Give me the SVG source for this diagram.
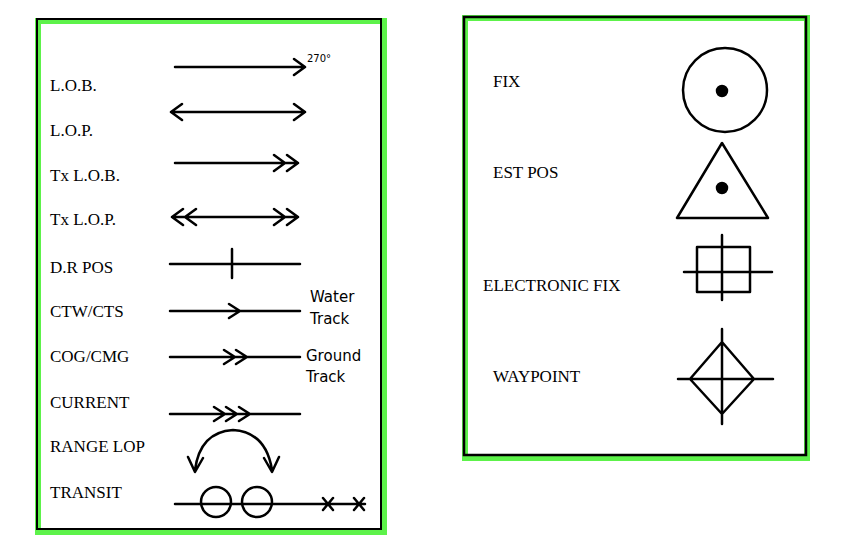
<svg xmlns="http://www.w3.org/2000/svg" width="859" height="545" viewBox="0 0 859 545">
<style>
.t{font-family:"Liberation Serif",serif;font-size:17px;fill:#000}
.h{font-family:"DejaVu Sans",sans-serif;font-size:15px;fill:#000}
.l{stroke:#000;stroke-width:2.5;fill:none;stroke-linecap:round;stroke-linejoin:round}
</style>
<rect width="859" height="545" fill="#fff"/>
<g id="left-panel">
<rect x="38" y="21" width="346" height="511" fill="none" stroke="#5df24a" stroke-width="6"/>
<rect x="37" y="19" width="344" height="510" fill="none" stroke="#000" stroke-width="2"/>
</g>
<g id="right-panel">
<rect x="465" y="18" width="342" height="440" fill="none" stroke="#5df24a" stroke-width="6"/>
<rect x="464" y="17" width="342" height="438" fill="none" stroke="#000" stroke-width="2.5"/>
</g>
<g id="labels">
<text class="t" x="50" y="91">L.O.B.</text>
<text class="t" x="50" y="136">L.O.P.</text>
<text class="t" x="50" y="181">Tx L.O.B.</text>
<text class="t" x="50" y="225">Tx L.O.P.</text>
<text class="t" x="50" y="273">D.R POS</text>
<text class="t" x="50" y="317">CTW/CTS</text>
<text class="t" x="50" y="362">COG/CMG</text>
<text class="t" x="50" y="408">CURRENT</text>
<text class="t" x="50" y="452">RANGE LOP</text>
<text class="t" x="50" y="498">TRANSIT</text>
<text x="307" y="62" style="font-family:'DejaVu Sans',sans-serif;font-size:10px">270°</text>
<text class="h" x="310" y="302">Water</text>
<text class="h" x="310" y="324">Track</text>
<text class="h" x="306" y="361">Ground</text>
<text class="h" x="306" y="382">Track</text>
<text class="t" x="493" y="87">FIX</text>
<text class="t" x="493" y="178">EST POS</text>
<text class="t" x="483" y="291">ELECTRONIC FIX</text>
<text class="t" x="493" y="382">WAYPOINT</text>
</g>
<g id="connectors" class="l">
<path d="M175 67H304M294 59L305 67L294 75"/>
<path d="M172 112H305M182 104L171 112L182 120M294 104L305 112L294 120"/>
<path d="M175 163H298M274 155L285 163L274 171M287 155L298 163L287 171"/>
<path d="M172 217H298M183 209L172 217L183 225M196 209L185 217L196 225M274 209L285 217L274 225M287 209L298 217L287 225"/>
<path d="M170 264H300M232 249V278"/>
<path d="M170 311H300M229 304L240 311L229 318"/>
<path d="M170 357H300M224 350L235 357L224 364M236 350L247 357L236 364"/>
<path d="M170 414H300M214 407L225 414L214 421M226 407L237 414L226 421M239 407L250 414L239 421"/>
<path d="M195 470Q200 432 233 430Q266 432 272 470M188 457L195 472L203 458M264 458L272 472L279 457"/>
<path d="M175 504H365M323 498L333 510M333 498L323 510M354 498L364 510M364 498L354 510"/>
<circle cx="216" cy="502" r="15"/>
<circle cx="257" cy="502" r="15"/>
</g>
<g id="symbols" class="l">
<circle cx="725" cy="90" r="42"/>
<circle cx="722" cy="91" r="5" fill="#000"/>
<path d="M722 143L677 218H768Z"/>
<circle cx="722" cy="188" r="5" fill="#000"/>
<rect x="697" y="247" width="53" height="45"/>
<path d="M684 272H772M722 235V300"/>
<path d="M722 342L754 379L722 414L690 379Z M678 379H773M722 329V424"/>
</g>
</svg>
